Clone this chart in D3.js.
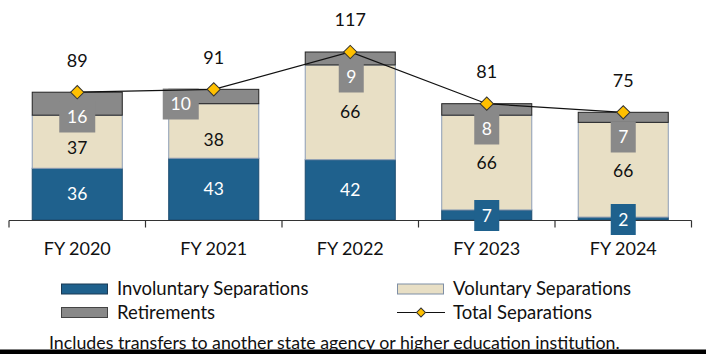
<!DOCTYPE html>
<html>
<head>
<meta charset="utf-8">
<script src="https://cdn.jsdelivr.net/npm/d3@7"></script>
<style>
  body { margin: 0; background: #fff; }
  text { font-family: Lato, "Open Sans", sans-serif; }
</style>
</head>
<body>
<script>
// data
var years = ["FY 2020", "FY 2021", "FY 2022", "FY 2023", "FY 2024"];
var involuntary = [36, 43, 42, 7, 2];
var voluntary = [37, 38, 66, 66, 66];
var retirements = [16, 10, 9, 8, 7];
var totals = [89, 91, 117, 81, 75];

var svgWidth = 708;
var svgHeight = 354;

var colors = {
  invol: "#1F618D",
  vol: "#E8DFC5",
  ret: "#898989",
  marker: "#FFC000"
};

var svg = d3.select("body")
  .append("svg")
  .attr("width", svgWidth)
  .attr("height", svgHeight);

var xScale = d3.scaleBand()
  .domain(years)
  .range([9, 691.5])
  .paddingInner(0.333)
  .paddingOuter(0.1665);

var yScale = d3.scaleLinear()
  .domain([0, 117])
  .range([220, 52]);

var bandCenter = d => xScale(d) + xScale.bandwidth() / 2;

// stacked segments
var rows = years.map(function(y, i) {
  return { year: y, invol: involuntary[i], vol: voluntary[i], ret: retirements[i], total: totals[i] };
});
var stack = d3.stack().keys(["invol", "vol", "ret"])(rows);

var strokes = { invol: "#1B4A6E", vol: "#8C9DB5", ret: "#222" };

stack.forEach(function(layer) {
  svg.append("g")
    .selectAll("rect")
    .data(layer)
    .enter()
    .append("rect")
    .attr("x", d => xScale(d.data.year) + 0.5)
    .attr("y", d => yScale(d[1]))
    .attr("width", xScale.bandwidth() - 1)
    .attr("height", d => yScale(d[0]) - yScale(d[1]))
    .attr("fill", colors[layer.key])
    .attr("stroke", strokes[layer.key])
    .attr("stroke-width", 1);
});

// x axis: line with ticks between categories
var axisY = 220.5;
var axisG = svg.append("g");
axisG.append("line")
  .attr("x1", 9).attr("x2", 691.5)
  .attr("y1", axisY).attr("y2", axisY)
  .attr("stroke", "#333").attr("stroke-width", 1.2);
d3.range(years.length + 1).forEach(function(i) {
  var x = 9 + i * xScale.step();
  axisG.append("line")
    .attr("x1", x).attr("x2", x)
    .attr("y1", axisY).attr("y2", axisY + 7)
    .attr("stroke", "#333").attr("stroke-width", 1.2);
});

svg.append("g")
  .selectAll("text")
  .data(years)
  .enter()
  .append("text")
  .attr("x", d => bandCenter(d))
  .attr("y", 249)
  .attr("dy", "0.35em")
  .attr("text-anchor", "middle")
  .attr("font-size", 18)
  .attr("fill", "#111")
  .text(d => d);

// segment labels (involuntary / voluntary inside bars)
var volNudge = [6, 9, 0, 0, 1];
rows.forEach(function(r, i) {
  var cx = bandCenter(r.year);
  if (r.invol >= 10) {
    svg.append("text")
      .attr("x", cx)
      .attr("y", yScale(r.invol / 2))
      .attr("dy", "0.35em")
      .attr("text-anchor", "middle")
      .attr("font-size", 17.5)
      .attr("fill", "#fff")
      .text(r.invol);
  }
  svg.append("text")
    .attr("x", cx)
    .attr("y", yScale(r.invol + r.vol / 2) + volNudge[i])
    .attr("dy", "0.35em")
    .attr("text-anchor", "middle")
    .attr("font-size", 17.5)
    .attr("fill", "#111")
    .text(r.vol);
});

// boxed labels: retirements (gray) and small involuntary values (blue)
var retLabelPos = [[0, 117], [-33, 104], [1, 77], [0, 129], [0, 137]];
var involLabelPos = { 3: [0, 215.5], 4: [0, 219.5] };

function boxLabel(cx, cy, value, fill) {
  var w = String(value).length > 1 ? 36 : 25;
  var h = 31;
  svg.append("rect")
    .attr("x", cx - w / 2)
    .attr("y", cy - h / 2)
    .attr("width", w)
    .attr("height", h)
    .attr("fill", fill);
  svg.append("text")
    .attr("x", cx)
    .attr("y", cy)
    .attr("dy", "0.36em")
    .attr("text-anchor", "middle")
    .attr("font-size", 17.5)
    .attr("fill", "#fff")
    .text(value);
}

rows.forEach(function(r, i) {
  var cx = bandCenter(r.year);
  boxLabel(cx + retLabelPos[i][0], retLabelPos[i][1], r.ret, colors.ret);
  if (involLabelPos[i]) {
    boxLabel(cx + involLabelPos[i][0], involLabelPos[i][1], r.invol, colors.invol);
  }
});

// total line with diamond markers
var line = d3.line()
  .x(d => bandCenter(d.year))
  .y(d => yScale(d.total));

svg.append("path")
  .datum(rows)
  .attr("d", line)
  .attr("fill", "none")
  .attr("stroke", "#111")
  .attr("stroke-width", 1.2);

var diamond = d3.symbol().type(d3.symbolSquare).size(88);
svg.append("g")
  .selectAll("path")
  .data(rows)
  .enter()
  .append("path")
  .attr("d", diamond)
  .attr("transform", d => `translate(${bandCenter(d.year)}, ${yScale(d.total)}) rotate(45)`)
  .attr("fill", colors.marker)
  .attr("stroke", "#333")
  .attr("stroke-width", 1);

svg.append("g")
  .selectAll("text")
  .data(rows)
  .enter()
  .append("text")
  .attr("x", d => bandCenter(d.year))
  .attr("y", d => yScale(d.total) - 32)
  .attr("dy", "0.35em")
  .attr("text-anchor", "middle")
  .attr("font-size", 18)
  .attr("fill", "#111")
  .text(d => d.total);

// legend
var legend = svg.append("g");
var legendItems = [
  { label: "Involuntary Separations", x: 61, y: 289, fill: colors.invol, stroke: "#1B3A55" },
  { label: "Voluntary Separations", x: 397, y: 289, fill: colors.vol, stroke: "#7F8FA6" },
  { label: "Retirements", x: 61, y: 312.5, fill: colors.ret, stroke: "#444" }
];
legendItems.forEach(function(it) {
  legend.append("rect")
    .attr("x", it.x + 0.5)
    .attr("y", it.y - 5)
    .attr("width", 46)
    .attr("height", 10)
    .attr("fill", it.fill)
    .attr("stroke", it.stroke);
  legend.append("text")
    .attr("x", it.x + 56)
    .attr("y", it.y)
    .attr("dy", "0.35em")
    .attr("font-size", 18.5)
    .attr("fill", "#111")
    .text(it.label);
});
legend.append("line")
  .attr("x1", 397).attr("x2", 445)
  .attr("y1", 312.5).attr("y2", 312.5)
  .attr("stroke", "#111").attr("stroke-width", 1.2);
legend.append("path")
  .attr("d", d3.symbol().type(d3.symbolSquare).size(40))
  .attr("transform", "translate(421, 312.5) rotate(45)")
  .attr("fill", colors.marker)
  .attr("stroke", "#333");
legend.append("text")
  .attr("x", 453)
  .attr("y", 312.5)
  .attr("dy", "0.35em")
  .attr("font-size", 18.5)
  .attr("fill", "#111")
  .text("Total Separations");

// footnote and bottom rule
svg.append("text")
  .attr("x", 49)
  .attr("y", 349)
  .attr("font-size", 17.8)
  .attr("fill", "#111")
  .text("Includes transfers to another state agency or higher education institution.");

svg.append("rect")
  .attr("x", 0)
  .attr("y", 349.5)
  .attr("width", 706)
  .attr("height", 5)
  .attr("fill", "#000");
</script>
</body>
</html>
